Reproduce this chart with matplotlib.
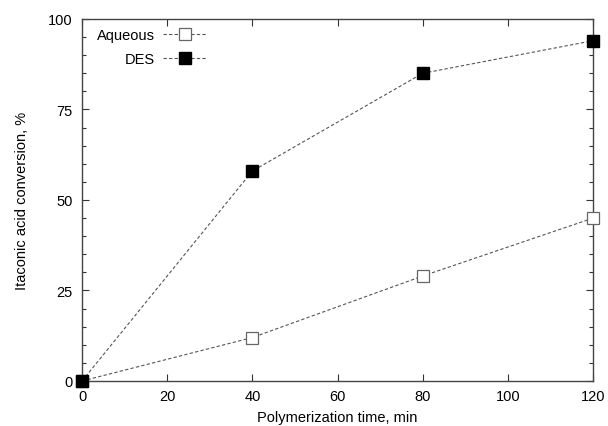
import matplotlib
matplotlib.use("Agg")
import matplotlib.pyplot as plt
from matplotlib.ticker import MultipleLocator

plt.rcParams['font.family'] = ['Liberation Sans', 'DejaVu Sans']

time_min = [0, 40, 80, 120]
aqueous = [0, 12, 29, 45]
des = [0, 58, 85, 94]

fig = plt.figure(figsize=(6.08, 4.27), dpi=100)
ax = fig.add_axes([0.1349, 0.1054, 0.8405, 0.8478])

ax.plot(time_min, aqueous, linestyle=(0, (3, 2)), color='#555555', linewidth=0.8,
        marker='s', markersize=8, markerfacecolor='white', markeredgecolor='#666666',
        markeredgewidth=0.9, label='Aqueous', clip_on=False, zorder=3)
ax.plot(time_min, des, linestyle=(0, (3, 2)), color='#555555', linewidth=0.8,
        marker='s', markersize=8, markerfacecolor='black', markeredgecolor='black',
        label='DES', clip_on=False, zorder=4)

ax.set_xlim(0, 120)
ax.set_ylim(0, 100)
ax.xaxis.set_major_locator(MultipleLocator(20))
ax.yaxis.set_major_locator(MultipleLocator(25))
ax.yaxis.set_minor_locator(MultipleLocator(5))
ax.tick_params(which='both', direction='in', top=True, right=True, labelsize=10.5, color='#333333')
ax.tick_params(which='major', length=5, width=0.8)
ax.tick_params(which='minor', length=3, width=0.8)
ax.tick_params(axis='y', which='major', pad=6.5)
ax.tick_params(axis='x', which='major', pad=6)
for s in ax.spines.values():
    s.set_color('#444444')
    s.set_linewidth(1.0)

ax.set_xlabel('Polymerization time, min', fontsize=10.5, labelpad=5)
ax.set_ylabel('Itaconic acid conversion, %', fontsize=10.5, labelpad=14)

leg = ax.legend(loc='upper left', bbox_to_anchor=(0.018, 0.99), borderaxespad=0,
                markerfirst=False, frameon=False, fontsize=10.5,
                handlelength=3.0, handletextpad=0.55, labelspacing=0.65)

fig.savefig('out.png', dpi=100)
